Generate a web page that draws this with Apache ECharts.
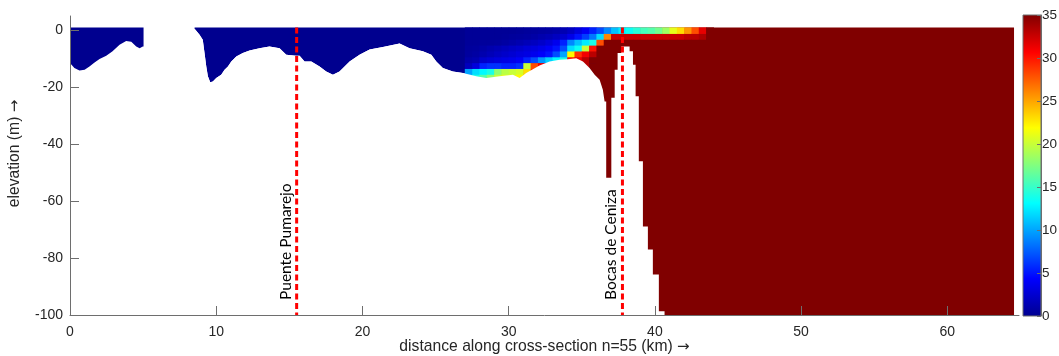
<!DOCTYPE html>
<html><head><meta charset="utf-8">
<script src="https://cdn.jsdelivr.net/npm/echarts@6/dist/echarts.min.js"></script>
<style>html,body{margin:0;padding:0;background:#fff;overflow:hidden}#c{width:1059px;height:356px}</style>
</head><body><div id="c"></div>
<script>
// ---------- data ----------
const xTicks = [0, 10, 20, 30, 40, 50, 60];
const yTicks = [-100, -80, -60, -40, -20, 0];
const salMin = 0, salMax = 35;
const waterSurface = 1.0;       // m
const reachEnd = 64.56;         // km, last model column
const saltStart = 36.0;         // km, start of the fully saline part below the mixing cells
const floorZ = -100;            // m, bottom of the plotted range

// bed (bottom of the water domain), segment 1 (river upstream)
const bed1X = [0, 0.3, 0.65, 1.0, 1.33, 1.68, 2.02, 2.48, 2.91, 3.39, 3.84, 4.19, 4.53, 4.76, 4.98, 5.03];
const bed1Z = [-11.5, -13.3, -14.1, -13.9, -12.7, -11.3, -10.1, -9.0, -7.4, -5.1, -3.8, -4.0, -5.7, -6.3, -5.7, -5.7];

// bed, segment 2 (main reach to the sea)
const bed2X = [8.52, 8.86, 9.08, 9.2, 9.32, 9.43, 9.59, 9.77, 10.0, 10.34, 10.57, 10.8, 11.03, 11.37, 11.82, 12.28, 12.96, 13.64, 14.33, 14.79, 15.47, 15.7, 16.04, 16.5, 17.07, 17.52, 17.98, 18.43, 19.12, 19.8, 20.49, 21.4, 22.54, 23.22, 24.13, 24.71, 25.05, 25.5, 26.18, 26.87, 27.78, 28.47, 29.38, 30.29, 30.75, 31.2, 32.11, 32.8, 33.48, 34.05, 34.62, 35.08, 35.53, 35.88, 36.22, 36.44, 36.56, 36.67, 36.67, 37.02, 37.02, 37.25, 37.25, 37.45, 37.45, 37.7, 37.7, 38.27, 38.27, 38.5, 38.5, 38.68, 38.68, 38.9, 38.9, 39.18, 39.18, 39.52, 39.52, 39.86, 39.86, 40.27, 40.27, 40.66, 40.66];
const bed2Z = [0.5, -1.6, -3.3, -8.0, -12.7, -16.2, -18.3, -18.0, -16.8, -15.6, -13.9, -12.7, -11.0, -9.2, -8.0, -7.1, -6.3, -5.7, -6.3, -8.6, -9.0, -9.0, -11.0, -11.0, -12.7, -14.5, -15.6, -14.5, -11.0, -8.6, -6.8, -5.9, -4.7, -6.3, -7.4, -8.6, -11.0, -13.3, -14.5, -15.0, -16.2, -16.8, -16.2, -15.6, -16.8, -15.0, -12.4, -11.0, -10.4, -10.2, -9.8, -11.0, -13.3, -15.6, -17.4, -20.9, -25, -25, -51.8, -51.8, -23.7, -23.7, -13.9, -13.9, -8.0, -8.0, -5.7, -5.7, -7.4, -7.4, -12.1, -12.1, -23.2, -23.2, -46, -46, -68.9, -68.9, -77, -77, -85.8, -85.8, -98.7, -98.7, -100];

// salinity cells of the mixing zone: columns from cellX0 every cellW km, layers between layerEdges (m)
const cellX0 = 27.0, cellW = 0.5;
const layerEdges = [1.0, -1.3, -3.35, -5.4, -7.45, -9.5, -11.55, -13.6, -15.65, -17.7];
const salR0 = [0.3, 0.3, 0.3, 0.3, 0.3, 0.3, 0.3, 0.4, 0.5, 0.6, 0.7, 0.8, 1, 1.4, 2, 3, 4, 5.5, 7, 9, 11, 12.5, 13.5, 14.5, 15.5, 16, 17, 18.5, 21, 23, 25.5, 28, 31.5, 35];
const salR1 = [0.3, 0.3, 0.3, 0.3, 0.3, 0.4, 0.5, 0.6, 0.7, 0.9, 1.2, 1.5, 1.9, 2.5, 3.5, 5, 6.5, 8.5, 12, 26, 32.5, 32.5, 32.5, 32.5, 32.5, 32.5, 32.5, 32.5, 32.5, 32.5, 33, 33, 33.5, 35];
const salR2 = [0.4, 0.4, 0.5, 0.5, 0.6, 0.8, 1, 1.3, 1.6, 1.9, 2.3, 2.9, 3.7, 5.5, 9, 11, 12.5, 14, 28, 35, 35, 35, 35, 35, 35, 35, 35, 35, 35, 35, 35, 35, 35, 35];
const salR3 = [0.5, 0.6, 0.9, 1.2, 1.5, 1.8, 2.1, 2.4, 2.8, 3.1, 3.5, 4.1, 5, 7, 12, 13.5, 20, 30, 35, 35, 35, 35, 35, 35, 35, 35, 35, 35, 35, 35, 35, 35, 35, 35];
const salR4 = [0.6, 0.8, 1.2, 1.6, 2, 2.3, 2.6, 3, 3.3, 3.7, 4.2, 5, 7, 10, 22, 29, 31, 33, 35, 35, 35, 35, 35, 35, 35, 35, 35, 35, 35, 35, 35, 35, 35, 35];
const salR5 = [1, 1.3, 2.3, 2.7, 3, 3.3, 3.5, 4, 5.5, 7, 9.5, 11.5, 13, 14, 30, 31, 33, 35, 35, 35, 35, 35, 35, 35, 35, 35, 35, 35, 35, 35, 35, 35, 35, 35];
const salR6 = [1.8, 3, 5.5, 6, 6, 5.5, 5.5, 6, 20, 28, 31, 33, 33, 33, 33, 33, 33, 35, 35, 35, 35, 35, 35, 35, 35, 35, 35, 35, 35, 35, 35, 35, 35, 35];
const salR7 = [10, 12, 13, 14, 18, 19.5, 20, 20.5, 23, 29, 33, 33, 33, 33, 33, 33, 33, 35, 35, 35, 35, 35, 35, 35, 35, 35, 35, 35, 35, 35, 35, 35, 35, 35];
const salR8 = [12, 14, 16, 18, 20, 21, 21, 22, 25, 30, 33, 33, 33, 33, 33, 33, 33, 35, 35, 35, 35, 35, 35, 35, 35, 35, 35, 35, 35, 35, 35, 35, 35, 35];

// landmarks
const markerX = [15.5, 37.78];
const markerNames = ['Puente Pumarejo', 'Bocas de Ceniza'];
const markerTop = 1.0, markerBottom = -100;

// jet colormap
const jetStops = ['#00008F', '#0000FF', '#0080FF', '#00FFFF', '#80FF80', '#FFFF00', '#FF8000', '#FF0000', '#800000'];

// ---------- helpers ----------
const jetRgb = jetStops.map(h => [parseInt(h.slice(1, 3), 16), parseInt(h.slice(3, 5), 16), parseInt(h.slice(5, 7), 16)]);
function jet(v) {
  const n = jetRgb.length - 1;
  const t = Math.max(0, Math.min(1, (v - salMin) / (salMax - salMin))) * n;
  const i = Math.min(Math.floor(t), n - 1);
  const f = t - i;
  const a = jetRgb[i], b = jetRgb[i + 1];
  return 'rgb(' + a.map((c, k) => Math.round(c + (b[k] - c) * f)).join(',') + ')';
}
const salRows = [salR0, salR1, salR2, salR3, salR4, salR5, salR6, salR7, salR8];
const cellData = [];
salRows.forEach((row, r) => row.forEach((v, c) => {
  cellData.push([cellX0 + c * cellW, cellX0 + (c + 1) * cellW, layerEdges[r], layerEdges[r + 1], v]);
}));

const bed1 = bed1X.map((x, i) => [x, bed1Z[i]]);
const bed2 = bed2X.map((x, i) => [x, bed2Z[i]]);

// polygons in data units (km, m)
const freshPoly1 = [[bed1X[0], waterSurface], [bed1X[bed1X.length - 1], waterSurface]].concat(bed1.slice().reverse());
const freshPoly2 = [[bed2X[0], waterSurface], [saltStart, waterSurface], [saltStart, floorZ]]
  .concat(bed2.filter(p => p[0] < saltStart).reverse());
const saltPoly = [[saltStart, waterSurface], [reachEnd, waterSurface], [reachEnd, floorZ], [saltStart, floorZ]];
const landPoly2 = bed2.concat([[bed2X[bed2X.length - 1], floorZ], [bed2X[0], floorZ]]);

function polySeries(poly, color, z) {
  return {
    type: 'custom', z: z, silent: true, clip: true,
    data: poly, encode: { x: 0, y: 1 },
    renderItem: function (params, api) {
      if (params.dataIndex !== 0) return { type: 'group', children: [] };
      return {
        type: 'polygon',
        shape: { points: poly.map(p => api.coord(p)) },
        style: { fill: color }
      };
    }
  };
}

const axisGray = '#6e6e6e';
const textCol = '#262626';
const font = 'Liberation Sans';
const arrowRich = { a: { fontFamily: 'DejaVu Sans', fontSize: 15, color: textCol } };

const cbStops = jetStops.map((c, i) => ({ offset: 1 - i / (jetStops.length - 1), color: c })).reverse();

const option = {
  animation: false,
  textStyle: { fontFamily: font },
  grid: [
    { left: 70, right: 40, top: 16, bottom: 41, outerBoundsMode: 'none', containLabel: false },
    { left: 1023, width: 18, top: 15, height: 301, outerBoundsMode: 'none', containLabel: false }
  ],
  xAxis: [
    {
      type: 'value', min: 0, max: 64.9, z: 10,
      axisLine: { onZero: false, lineStyle: { color: axisGray, width: 1 } },
      axisTick: { inside: true, length: 9, customValues: xTicks, lineStyle: { color: axisGray } },
      axisLabel: { customValues: xTicks, margin: 10, fontSize: 14, color: textCol, fontFamily: font },
      splitLine: { show: false },
      name: 'distance along cross-section n=55 (km) {a|\u2192}', nameLocation: 'middle', nameGap: 24,
      nameMoveOverlap: false,
      nameTextStyle: { fontSize: 15.7, color: textCol, fontFamily: font, rich: arrowRich }
    },
    { gridIndex: 1, type: 'value', min: 0, max: 1, show: false }
  ],
  yAxis: [
    {
      type: 'value', min: -100, max: 5, z: 10,
      axisLine: { show: true, onZero: false, lineStyle: { color: axisGray, width: 1 } },
      axisTick: { show: true, inside: true, length: 9, customValues: yTicks, lineStyle: { color: axisGray } },
      axisLabel: { customValues: yTicks, margin: 7, fontSize: 14, color: textCol, fontFamily: font },
      splitLine: { show: false },
      name: 'elevation (m) {a|\u2192}', nameLocation: 'middle', nameGap: 47,
      nameMoveOverlap: false,
      nameTextStyle: { fontSize: 15.7, color: textCol, fontFamily: font, rich: arrowRich, padding: [0, 0, 0, 24] }
    },
    {
      gridIndex: 1, type: 'value', min: salMin, max: salMax, interval: 5, position: 'right', z: 10,
      axisLine: { show: true, onZero: false, lineStyle: { color: axisGray } },
      axisTick: { show: true, inside: true, length: 4, lineStyle: { color: axisGray } },
      axisLabel: { margin: 1, fontSize: 13.5, color: textCol, fontFamily: font },
      splitLine: { show: false }
    }
  ],
  series: [
    polySeries(freshPoly1, jetStops[0], 1),
    polySeries(freshPoly2, jetStops[0], 1),
    polySeries(saltPoly, jetStops[jetStops.length - 1], 1),
    {
      type: 'custom', z: 2, silent: true, clip: true, data: cellData,
      encode: { x: [0, 1], y: [2, 3] },
      renderItem: function (params, api) {
        const p0 = api.coord([api.value(0), api.value(2)]);
        const p1 = api.coord([api.value(1), api.value(3)]);
        return {
          type: 'rect',
          shape: { x: p0[0], y: p0[1], width: p1[0] - p0[0] + 0.6, height: p1[1] - p0[1] + 0.6 },
          style: { fill: jet(api.value(4)) }
        };
      }
    },
    polySeries(landPoly2, '#ffffff', 3),
    {
      type: 'custom', z: 4, silent: true,
      data: markerX.map((x, i) => [x, markerTop, markerBottom, i]),
      encode: { x: 0, y: [1, 2] },
      renderItem: function (params, api) {
        const top = api.coord([api.value(0), api.value(1)]);
        const bot = api.coord([api.value(0), api.value(2)]);
        return {
          type: 'group',
          children: [
            {
              type: 'line',
              shape: { x1: top[0], y1: top[1], x2: bot[0], y2: bot[1] },
              style: { stroke: '#ff0000', lineWidth: 3, lineDash: [6, 3.5] }
            },
            {
              type: 'text', x: bot[0] - 3, y: bot[1] - 15, rotation: Math.PI / 2,
              style: {
                text: markerNames[api.value(3)], fontSize: 15.5, fontFamily: 'Lato',
                fill: '#000000', align: 'left', verticalAlign: 'bottom'
              }
            }
          ]
        };
      }
    },
    {
      type: 'custom', xAxisIndex: 1, yAxisIndex: 1, silent: true,
      data: [[0, 1, salMin, salMax]],
      encode: { x: [0, 1], y: [2, 3] },
      renderItem: function (params, api) {
        const p0 = api.coord([api.value(0), api.value(3)]);
        const p1 = api.coord([api.value(1), api.value(2)]);
        return {
          type: 'rect',
          shape: { x: p0[0], y: p0[1], width: p1[0] - p0[0], height: p1[1] - p0[1] },
          style: { fill: new echarts.graphic.LinearGradient(0, 0, 0, 1, cbStops), stroke: axisGray, lineWidth: 1 }
        };
      }
    }
  ]
};
const chart = echarts.init(document.getElementById('c'));
chart.setOption(option);
</script>
</body></html>
